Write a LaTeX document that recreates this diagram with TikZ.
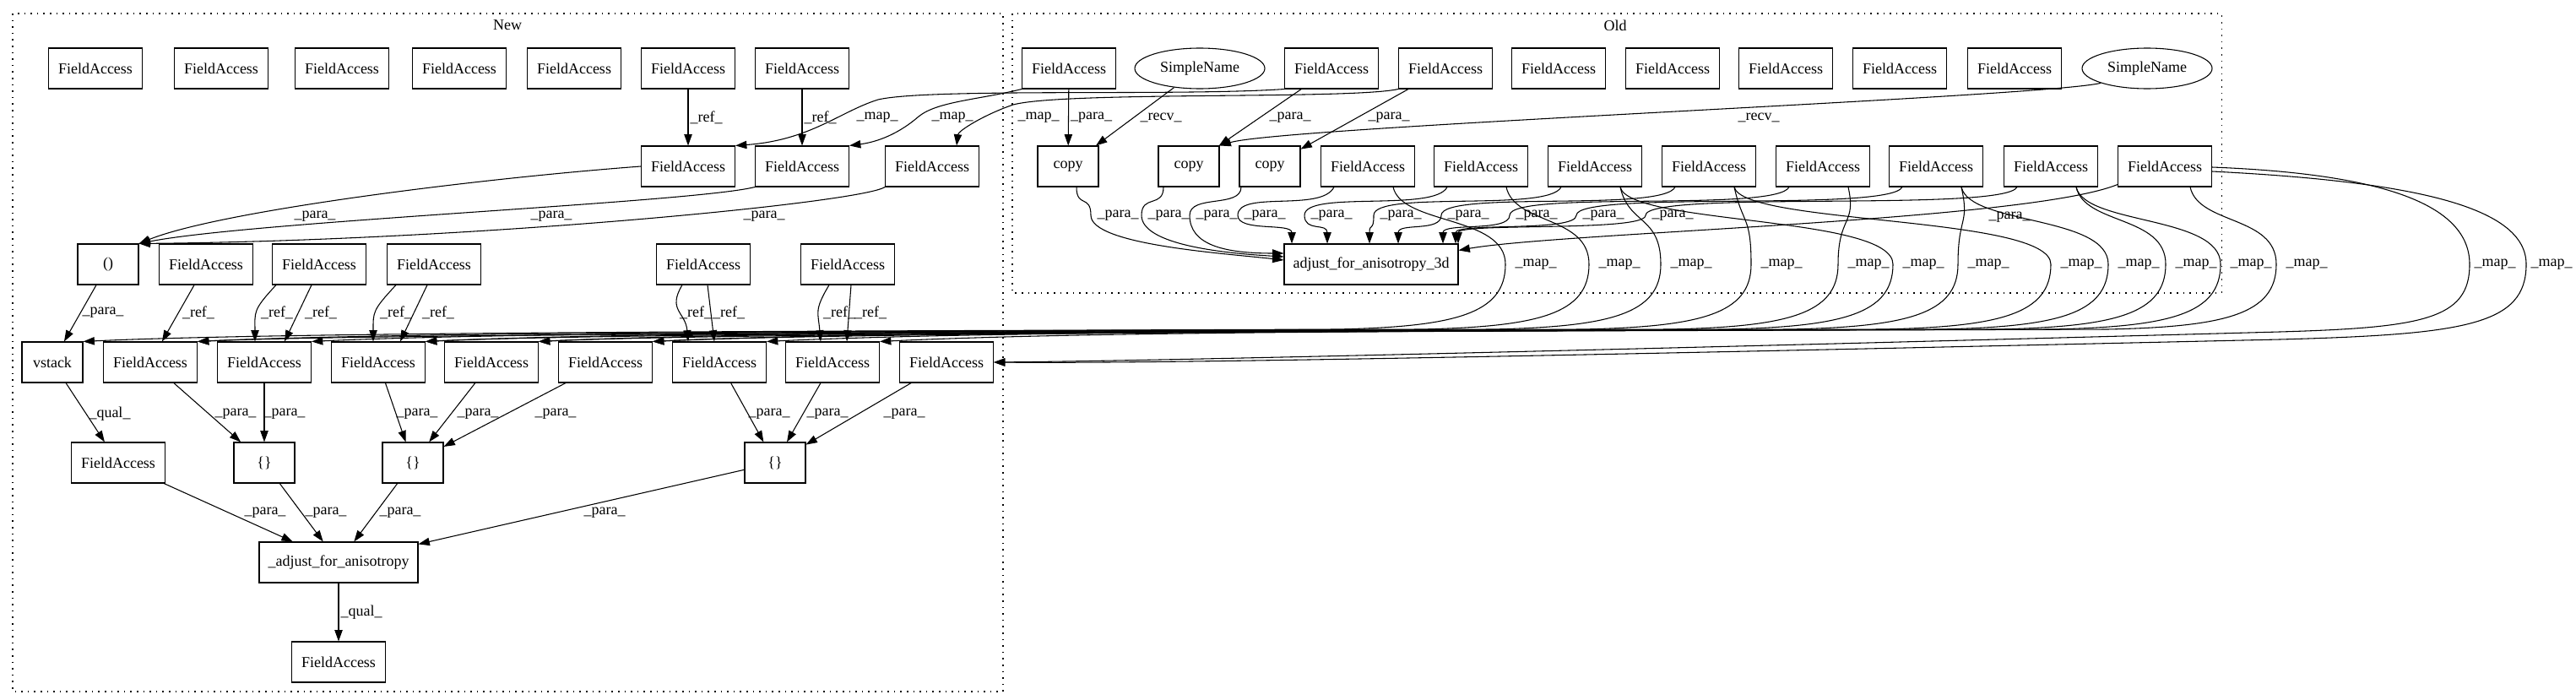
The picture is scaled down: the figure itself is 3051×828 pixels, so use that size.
\documentclass[tikz,border=0pt]{standalone}
\usepackage{fontspec}
\setmainfont{Liberation Serif}
\usetikzlibrary{arrows.meta, calc, shapes.geometric}

\begin{document}
\begin{tikzpicture}[x=0.75pt, y=-0.75pt, line width=0.8pt, font=\fontsize{13.5}{16}\selectfont,
    box/.style = {draw, rectangle, minimum width=83.25pt, minimum height=36pt, inner sep=1pt},
    smallbox/.style = {box, minimum width=54pt},
    simple/.style = {draw, ellipse, minimum width=115.5pt, minimum height=36pt, inner sep=1pt},
    conn/.style = {-{Triangle[length=10pt, width=7pt]}},
    lbl/.style = {inner sep=1.5pt},
    cluster/.style = {dash pattern=on 1.2pt off 4.5pt}]
        \path[use as bounding box, fill=white] (0,0) rectangle (3051,828);

        % Drawing the clusters
        \draw[cluster] (15,16) rectangle (1188,819);
        \node (new-title) at (601,30) {New};
        \draw[cluster] (1199,16) rectangle (2631,347);
        \node (old-title) at (1913,30) {Old};

        % Drawing the new nodes
        \foreach \x [count=\i] in {113,262,405,544,680,815,950}{
            \node[box] (ntop-\i) at (\x,81) {FieldAccess};
          }
        \foreach \x [count=\i] in {815,950,1104}{
            \node[box] (nmid-\i) at (\x,197) {FieldAccess};
          }
        \node[smallbox] (paren) at (128,313) {()};
        \foreach \x [count=\i] in {244,378,514,833,1004}{
            \node[box] (nsrc-\i) at (\x,313) {FieldAccess};
          }
        \node[smallbox] (vstack) at (62,429) {vstack};
        \foreach \x [count=\i] in {178,313,448,582,717,852,986,1121}{
            \node[box] (nfa-\i) at (\x,429) {FieldAccess};
          }
        \node[box] (nqual) at (140,548) {FieldAccess};
        \foreach \x [count=\i] in {313,489,918}{
            \node[smallbox] (nset-\i) at (\x,548) {\{\}};
          }
        \node[box, minimum width=141pt] (adjust) at (401,666) {\_adjust\_for\_anisotropy};
        \node[box] (nout) at (401,784) {FieldAccess};

        % Drawing the old nodes
        \node[box] (otop-1) at (1266,81) {FieldAccess};
        \node[simple] (oname-1) at (1421,81) {SimpleName};
        \foreach \x [count=\i from 2] in {1577,1712,1846,1981,2115,2250,2386}{
            \node[box] (otop-\i) at (\x,81) {FieldAccess};
          }
        \node[simple] (oname-2) at (2543,81) {SimpleName};
        \foreach \x [count=\i] in {1265,1408,1504}{
            \node[smallbox] (copy-\i) at (\x,197) {copy};
          }
        \foreach \x [count=\i] in {1620,1754,1889,2024,2159,2293,2429,2564}{
            \node[box] (ofa-\i) at (\x,197) {FieldAccess};
          }
        \node[box, minimum width=154.5pt] (adjust3d) at (1624,313) {adjust\_for\_anisotropy\_3d};

        % Connections
        % New: references and tuple arguments
        \draw[conn] (ntop-6) -- (nmid-1) node[lbl, midway, right] {\_ref\_};
        \draw[conn] (ntop-7) -- (nmid-2) node[lbl, midway, right] {\_ref\_};
        \draw[conn] (nmid-1.west) .. controls (560,212) and (260,250) .. (paren.north east) node[lbl] at (373,256) {\_para\_};
        \draw[conn] (nmid-2.south west) .. controls (820,240) and (300,262) .. (paren.north east) node[lbl] at (653,256) {\_para\_};
        \draw[conn] (nmid-3.south west) .. controls (1020,240) and (560,285) .. (paren.north east) node[lbl] at (905,256) {\_para\_};
        \draw[conn] (paren) -- (vstack) node[lbl] at (122,370) {\_para\_};
        \draw[conn] (nsrc-1) -- (nfa-1) node[lbl] at (235,370) {\_ref\_};
        \draw[conn] ($(nsrc-2.south)+(-51,0)$) .. controls +(-28,30) and +(0,-35) .. ($(nfa-2.north)+(-11,0)$) node[lbl] at (328,370) {\_ref\_};
        \draw[conn] ($(nsrc-2.south)+(-9,0)$) -- ($(nfa-2.north)+(24,0)$) node[lbl] at (380,370) {\_ref\_};
        \draw[conn] ($(nsrc-3.south)+(-45,0)$) .. controls +(-28,30) and +(0,-35) .. ($(nfa-3.north)+(-6,0)$) node[lbl] at (469,370) {\_ref\_};
        \draw[conn] ($(nsrc-3.south)+(-8,0)$) -- ($(nfa-3.north)+(26,0)$) node[lbl] at (519,370) {\_ref\_};
        \draw[conn] ($(nsrc-4.south)+(-25,0)$) .. controls +(-18,30) and +(-3,-35) .. ($(nfa-6.north)+(-37,0)$) node[lbl] at (824,370) {\_ref\_};
        \draw[conn] ($(nsrc-4.south)+(5,0)$) -- ($(nfa-6.north)+(-6,0)$) node[lbl] at (863,370) {\_ref\_};
        \draw[conn] ($(nsrc-5.south)+(-22,0)$) .. controls +(-18,30) and +(-3,-35) .. ($(nfa-7.north)+(-14,0)$) node[lbl] at (994,370) {\_ref\_};
        \draw[conn] ($(nsrc-5.south)+(4,0)$) -- ($(nfa-7.north)+(17,0)$) node[lbl] at (1031,370) {\_ref\_};

        % New: sets and the adjusted call
        \draw[conn] (vstack) -- (nqual) node[lbl] at (130,490) {\_qual\_};
        \draw[conn] (nfa-1) -- (nset-1) node[lbl] at (279,490) {\_para\_};
        \draw[conn] (nfa-2) -- (nset-1) node[lbl] at (337,490) {\_para\_};
        \draw[conn] (nfa-3) -- (nset-2) node[lbl] at (494,490) {\_para\_};
        \draw[conn] (nfa-4) -- (nset-2) node[lbl] at (566,490) {\_para\_};
        \draw[conn] (nfa-5) -- (nset-2) node[lbl] at (658,490) {\_para\_};
        \draw[conn] (nfa-6) -- (nset-3) node[lbl] at (911,490) {\_para\_};
        \draw[conn] (nfa-7) -- (nset-3) node[lbl] at (980,490) {\_para\_};
        \draw[conn] (nfa-8) -- (nset-3) node[lbl] at (1071,490) {\_para\_};
        \draw[conn] (nqual) -- (adjust) node[lbl] at (314,607) {\_para\_};
        \draw[conn] (nset-1) -- (adjust) node[lbl] at (386,607) {\_para\_};
        \draw[conn] (nset-2) -- (adjust) node[lbl] at (474,607) {\_para\_};
        \draw[conn] (nset-3) -- (adjust) node[lbl] at (716,607) {\_para\_};
        \draw[conn] (adjust) -- (nout) node[lbl, midway, right] {\_qual\_};

        % Old: receivers and arguments of copy
        \draw[conn] (otop-1) -- (copy-1) node[lbl, midway, right] {\_para\_};
        \draw[conn] (oname-1) -- (copy-1) node[lbl] at (1375,139) {\_recv\_};
        \draw[conn] (otop-2) -- (copy-2) node[lbl] at (1528,139) {\_para\_};
        \draw[conn] (otop-3) -- (copy-3) node[lbl] at (1645,139) {\_para\_};
        \draw[conn] (oname-2.south west) .. controls (2420,115) and (1520,150) .. (copy-2.north east) node[lbl] at (2083,139) {\_recv\_};

        % Old to new: mapped fields of the second row
        \draw[conn] (otop-2.south west) .. controls (1400,114) and (1100,104) .. (1040,118) .. controls (995,132) and (960,166) .. (nmid-1.north east) node[lbl] at (1039,139) {\_map\_};
        \draw[conn] (otop-1.south west) .. controls (1160,118) and (1110,120) .. (1088,138) .. controls (1065,158) and (1040,168) .. (nmid-2.north east) node[lbl] at (1128,139) {\_map\_};
        \draw[conn] (otop-3.south west) .. controls (1600,118) and (1260,108) .. (1200,124) .. controls (1165,136) and (1135,155) .. ($(nmid-3.north)+(29,0)$) node[lbl] at (1230,139) {\_map\_};

        % Old: arguments of adjust_for_anisotropy_3d
        \foreach \src/\dx/\lx/\dy in {copy-1/10/1324/-5, copy-2/-30/1384/-9, copy-3/-34/1441/-13}{
            \pgfmathsetmacro{\cx}{\lx-32}
            \draw[conn] ($(\src.south)+(\dx,0)$) .. controls +(0,25) and (\cx,230) .. (\cx,255)
              .. controls (\cx,290) and (1450,300) .. ($(adjust3d.west)+(0,\dy)$)
              node[lbl] at (\lx,255) {\_para\_};
          }
        \foreach \src/\lx/\ex in {ofa-1/1498/-94, ofa-2/1577/-52, ofa-3/1659/-2, ofa-4/1739/32,
            ofa-5/1820/85, ofa-6/1899/100, ofa-7/1981/103}{
            \pgfmathsetmacro{\cx}{\lx-32}
            \draw[conn] ($(\src.south)+(-40,0)$) .. controls +(-15,30) and (\cx,225) .. (\cx,255)
              .. controls (\cx,275) and +(0,-25) .. ($(adjust3d.north)+(\ex,0)$)
              node[lbl] at (\lx,255) {\_para\_};
          }
        \draw[conn] ($(ofa-8.south west)+(0,-3)$) .. controls (2400,262) and (1850,275) .. ($(adjust3d.north east)+(0,8)$) node[lbl] at (2380,257) {\_para\_};

        % Old to new: mapped fields of the fourth row
        \foreach \src/\tgt/\lx in {ofa-1/vstack/1819, ofa-2/nfa-1/1918, ofa-3/nfa-2/2003, ofa-4/nfa-3/2110,
            ofa-5/nfa-4/2213, ofa-3/nfa-5/2278, ofa-6/nfa-6/2355, ofa-4/nfa-7/2465,
            ofa-6/nfa-3/2533, ofa-7/nfa-5/2601, ofa-7/nfa-1/2666, ofa-8/nfa-4/2732}{
            \pgfmathsetmacro{\cx}{\lx-36}
            \draw[conn] ($(\src.south)+(30,0)$) .. controls +(10,45) and (\cx,255) .. (\cx,313)
              .. controls (\cx,372) and (\cx-60,387) .. (\cx-200,390)
              .. controls +(-500,2) and +(250,-12) .. (\tgt.north east)
              node[lbl] at (\lx,313) {\_map\_};
          }
        \draw[conn] ($(ofa-8.east)+(0,1)$) .. controls (2800,205) and (2925,235) .. (2925,313)
          .. controls (2925,378) and (2870,388) .. (2700,393)
          .. controls (2000,412) and (1400,427) .. (nfa-8.east) node[lbl] at (2955,313) {\_map\_};
        \draw[conn] ($(ofa-8.east)+(0,6)$) .. controls (2860,215) and (2992,245) .. (2992,313)
          .. controls (2992,385) and (2920,396) .. (2700,402)
          .. controls (2000,418) and (1400,431) .. (nfa-8.east) node[lbl] at (3022,313) {\_map\_};
      \end{tikzpicture}
\end{document}
